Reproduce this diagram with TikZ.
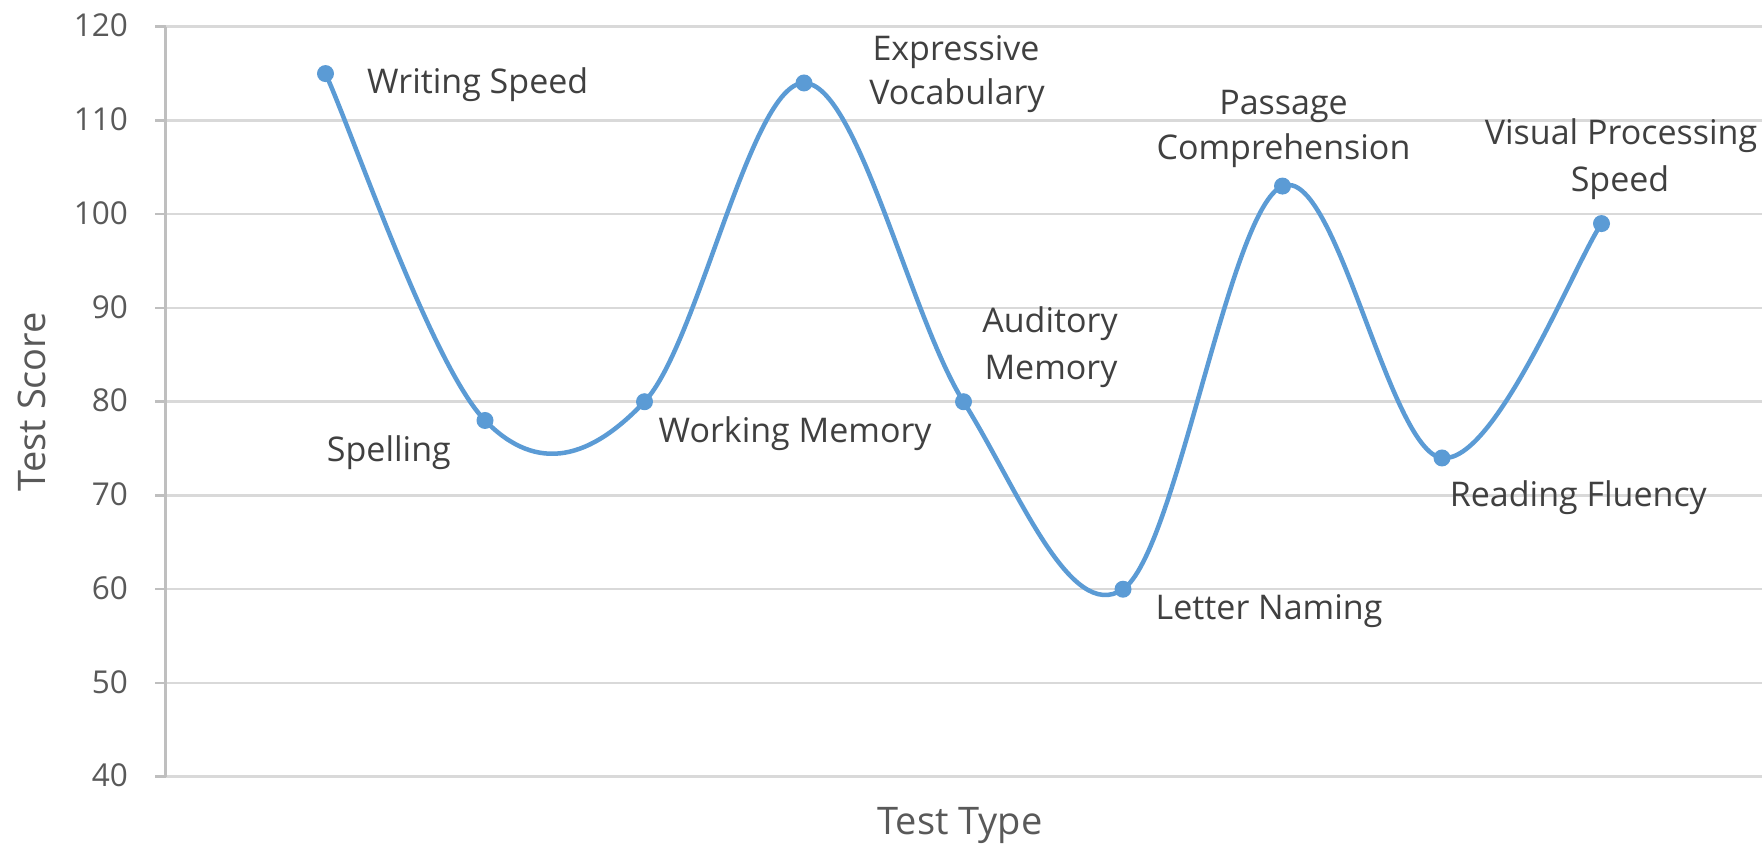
\documentclass[tikz,border=0pt]{standalone}
\usepackage{fontspec}
\setmainfont{Open Sans}
\definecolor{excelblue}{HTML}{5B9BD5}
\definecolor{gridgray}{HTML}{D9D9D9}
\definecolor{axisgray}{HTML}{BFBFBF}
\definecolor{labelgray}{HTML}{404040}
\definecolor{tickgray}{HTML}{595959}
\begin{document}
\begin{tikzpicture}[x=1pt,y=-1pt,
  datalabel/.style={inner sep=0pt, text=labelgray, font=\fontsize{34}{46}\selectfont},
  ticklabel/.style={inner sep=0pt, text=tickgray, font=\fontsize{31.5}{38}\selectfont, anchor=east},
  axistitle/.style={inner sep=0pt, text=tickgray, font=\fontsize{38}{46}\selectfont, anchor=base},
  gridline/.style={draw=gridgray, line width=2.5pt},
  axisline/.style={draw=axisgray, line width=2.5pt},
  series/.style={draw=excelblue, line width=4.5pt, line cap=round, line join=round},
  marker/.style={circle, fill=excelblue, minimum size=17pt, inner sep=0pt}
]
\useasboundingbox (0,0) rectangle (1762,847);
\fill[white] (0,0) rectangle (1762,847);

% gridlines, ticks, tick labels
\foreach \v in {40,50,...,120}{
  \pgfmathsetmacro\yy{776.7-9.375*(\v-40)}
  \draw[gridline] (166,\yy) -- (1762,\yy);
  \draw[axisline] (155,\yy) -- (166,\yy);
  \node[ticklabel] (t\v) at (128,\yy-1) {\v};
}
\draw[axisline] (165.5,26.7) -- (165.5,776.7);

% data series
\begin{scope}[x=159.5pt, y=9.375pt, shift={(166pt,-1151.7pt)}]
  \coordinate (p1) at (1,115);
  \coordinate (p2) at (2,78);
  \coordinate (p3) at (3,80);
  \coordinate (p4) at (4,114);
  \coordinate (p5) at (5,80);
  \coordinate (p6) at (6,60);
  \coordinate (p7) at (7,103);
  \coordinate (p8) at (8,74);
  \coordinate (p9) at (9,99);
  \draw[series] (p1)
    .. controls (1.1667,108.833) and (1.6667,83.833) .. (p2)
    .. controls (2.3333,72.1667) and (2.6667,74) .. (p3)
    .. controls (3.3333,86) and (3.6667,114) .. (p4)
    .. controls (4.3333,114) and (4.6667,89) .. (p5)
    .. controls (5.3333,71) and (5.6667,56.1667) .. (p6)
    .. controls (6.3333,63.8333) and (6.6667,100.6667) .. (p7)
    .. controls (7.3333,105.3333) and (7.6667,74.6667) .. (p8)
    .. controls (8.3333,73.3333) and (8.8333,94.8333) .. (p9);
  \foreach \i in {1,...,9}{
    \node[marker] (m\i) at (p\i) {};
  }
\end{scope}

% data labels
\node[datalabel, anchor=base west] (lws) at (367,93) {Writing Speed};
\node[datalabel, anchor=base east] (lsp) at (451,461) {Spelling};
\node[datalabel, anchor=base west] (lwm) at (658.5,442.5) {Working Memory};
\node[datalabel, anchor=base] (lev1) at (956,60.5) {Expressive};
\node[datalabel, anchor=base] (lev2) at (957,104) {Vocabulary};
\node[datalabel, anchor=base] (lam1) at (1050,332.5) {Auditory};
\node[datalabel, anchor=base] (lam2) at (1051,379.5) {Memory};
\node[datalabel, anchor=base west] (lln) at (1155.5,619.5) {Letter Naming};
\node[datalabel, anchor=base] (lpc1) at (1283.5,114.5) {Passage};
\node[datalabel, anchor=base] (lpc2) at (1283.5,159.5) {Comprehension};
\node[datalabel, anchor=base west] (lrf) at (1449.6,506) {Reading Fluency};
\node[datalabel, anchor=base] (lvp1) at (1621,144.5) {Visual Processing};
\node[datalabel, anchor=base] (lvp2) at (1620,191.5) {Speed};

% axis titles
\node[axistitle] (xt) at (960,834) {Test Type};
\node[axistitle, rotate=90] (yt) at (45,401.5) {Test Score};
\end{tikzpicture}
\end{document}
